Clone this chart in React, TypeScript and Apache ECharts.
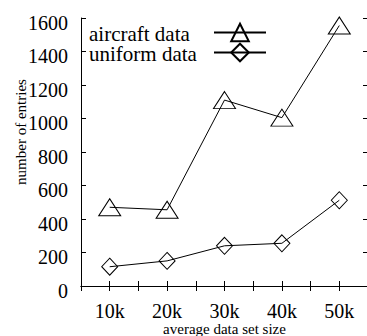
import React, { useEffect, useRef } from "react";
import * as echarts from "echarts";

const xValues = [10000, 20000, 30000, 40000, 50000];
const aircraft = [470, 455, 1110, 1005, 1555];
const uniform = [115, 150, 240, 255, 512];
const seriesNames = ["aircraft data", "uniform data"];
const yTitle = "number of entries";
const xTitle = "average data set size";

const FONT = "Liberation Serif";

export default function App() {
  const ref = useRef<HTMLDivElement>(null);
  useEffect(() => {
    const chart = echarts.init(ref.current!, undefined, { renderer: "svg" });
    const axisLine = { show: true, lineStyle: { color: "#000", width: 1 } };
    const axisTick = { show: true, inside: true, length: 5, lineStyle: { color: "#000", width: 1 } };
    const xCommon = { type: "value", min: 5000, max: 55000, interval: 5000, splitLine: { show: false }, axisLine, axisTick };
    const yCommon = { type: "value", min: 0, max: 1600, interval: 200, splitLine: { show: false }, axisLine, axisTick };
    const mk = (name: string, ys: number[], symbol: string, size: number[]) => ({
      name,
      type: "line",
      data: xValues.map((x, i) => [x, ys[i]]),
      symbol,
      symbolSize: size,
      showAllSymbol: true,
      lineStyle: { color: "#000", width: 1 },
      itemStyle: { color: "rgba(0,0,0,0)", borderColor: "#000", borderWidth: 1 },
      emphasis: { disabled: true },
      z: 3,
    });
    chart.setOption({
      animation: false,
      backgroundColor: "#fff",
      textStyle: { fontFamily: FONT, color: "#000" },
      grid: { left: 81, top: 18, width: 287, height: 268, containLabel: false, outerBoundsMode: "none" },
      legend: {
        orient: "vertical",
        left: 89,
        top: 21,
        padding: 0,
        align: "right",
        itemWidth: 52,
        itemHeight: 22,
        itemGap: -3,
        data: seriesNames,
        formatter: (n: string) => `{a|${n}}`,
        textStyle: {
          fontFamily: FONT,
          fontSize: 21,
          color: "#000",
          rich: { a: { width: 120, align: "left", fontFamily: FONT, fontSize: 21, color: "#000", lineHeight: 20, padding: [2, 0, 0, 0] } },
        },
        inactiveColor: "#000",
      },
      xAxis: [
        {
          ...xCommon,
          position: "bottom",
          name: xTitle,
          nameLocation: "middle",
          nameGap: 35,
          nameMoveOverlap: false,
          nameTextStyle: { fontFamily: FONT, fontSize: 15, color: "#000", verticalAlign: "top" },
          axisLabel: {
            fontFamily: FONT,
            fontSize: 20,
            color: "#000",
            margin: 15,
            showMinLabel: true,
            showMaxLabel: true,
            formatter: (v: number) => (v % 10000 === 0 && v >= 10000 && v <= 50000 ? `${v / 1000}k` : ""),
          },
        },
        { ...xCommon, position: "top", axisLabel: { show: false } },
      ],
      yAxis: [
        {
          ...yCommon,
          position: "left",
          name: yTitle,
          nameLocation: "middle",
          nameRotate: 90,
          nameGap: 53,
          nameMoveOverlap: false,
          nameTextStyle: { fontFamily: FONT, fontSize: 15, color: "#000", padding: [0, 0, 0, 40] },
          axisLabel: {
            fontFamily: FONT,
            fontSize: 20,
            color: "#000",
            margin: 13,
            verticalAlign: "top",
            lineHeight: 9,
            formatter: (v: number) => String(v),
          },
        },
        { ...yCommon, position: "right", axisLabel: { show: false } },
      ],
      series: [
        mk(seriesNames[0], aircraft, "triangle", [22, 17]),
        mk(seriesNames[1], uniform, "diamond", [16, 17]),
      ],
    });
    return () => chart.dispose();
  }, []);
  return <div ref={ref} style={{ position: "fixed", left: 0, top: 0, width: 367, height: 336 }} />;
}
